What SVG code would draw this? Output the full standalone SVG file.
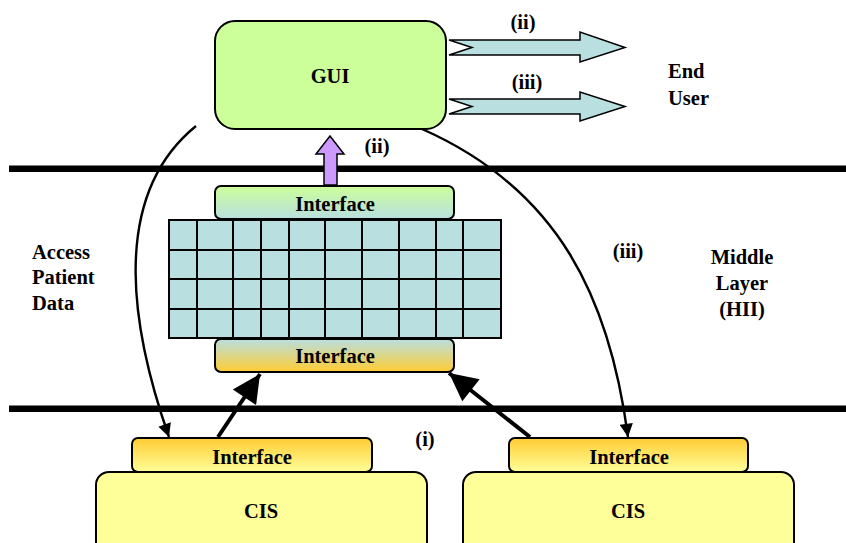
<svg xmlns="http://www.w3.org/2000/svg" width="846" height="543" viewBox="0 0 846 543">
<defs>
<linearGradient id="gTop" x1="0" y1="0" x2="0" y2="1"><stop offset="0" stop-color="#ccff99"/><stop offset="1" stop-color="#b9dfe0"/></linearGradient>
<linearGradient id="gMidBot" x1="0" y1="0" x2="0" y2="1"><stop offset="0" stop-color="#b9dfe0"/><stop offset="1" stop-color="#ffcc33"/></linearGradient>
<linearGradient id="gCis" x1="0" y1="0" x2="0" y2="1"><stop offset="0" stop-color="#ffcc33"/><stop offset="1" stop-color="#ffff99"/></linearGradient>
<marker id="ah" viewBox="0 0 10 10" refX="10" refY="5" markerWidth="8" markerHeight="7" orient="auto" markerUnits="strokeWidth"><path d="M0,0 L10,5 L0,10 Z" fill="#000"/></marker>
<marker id="ahT" viewBox="0 0 10 10" refX="10" refY="5" markerWidth="6.5" markerHeight="5.5" orient="auto" markerUnits="strokeWidth"><path d="M0,0 L10,5 L0,10 Z" fill="#000"/></marker>
</defs>
<style>
text{font-family:'Liberation Serif','Times New Roman',serif;font-weight:bold;font-size:20.5px;fill:#000}
.c{text-anchor:middle}
.box{stroke:#000;stroke-width:2}
.grid{fill:none;stroke:#000;stroke-width:2}
.blk{fill:#b9dfe0;stroke:#000;stroke-width:1.5;stroke-linejoin:miter}
.sep{stroke:#000;stroke-width:6.5}
.thin{fill:none;stroke:#000;stroke-width:2.4}
.thick{fill:none;stroke:#000;stroke-width:4}
</style>

<g id="layers">
<line class="sep" x1="9" y1="168.7" x2="846" y2="168.7"/>
<line class="sep" x1="9" y1="408.7" x2="846" y2="408.7"/>
</g>

<g id="gui">
<rect class="box" x="215" y="21" width="231" height="108" rx="20" fill="#ccff99"/>
<text class="c" x="330" y="83">GUI</text>
</g>

<g id="end-user">
<text x="668" y="78">End</text>
<text x="668" y="105">User</text>
</g>

<g id="middle-layer">
<rect class="box" x="215" y="186" width="239" height="33" rx="6" fill="url(#gTop)"/>
<text class="c" x="335" y="211">Interface</text>
<rect x="169" y="220" width="332" height="118" fill="#b9dfe0"/>
<path class="grid" d="M169,220 H501 V338 H169 Z M169,250 H501 M169,279 H501 M169,309 H501 M197,220 V338 M233,220 V338 M261,220 V338 M289,220 V338 M325,220 V338 M362,220 V338 M399,220 V338 M436,220 V338 M463,220 V338"/>
<rect class="box" x="215" y="339" width="239" height="33" rx="6" fill="url(#gMidBot)"/>
<text class="c" x="335" y="363">Interface</text>
</g>

<g id="cis-left">
<rect class="box" x="96" y="472" width="331" height="90" rx="13" fill="#ffff99"/>
<rect class="box" x="132" y="438" width="240" height="34" rx="6" fill="url(#gCis)"/>
<text class="c" x="252" y="464">Interface</text>
<text class="c" x="261" y="518">CIS</text>
</g>

<g id="cis-right">
<rect class="box" x="463" y="472" width="331" height="90" rx="13" fill="#ffff99"/>
<rect class="box" x="509" y="438" width="239" height="34" rx="6" fill="url(#gCis)"/>
<text class="c" x="629" y="464">Interface</text>
<text class="c" x="628" y="518">CIS</text>
</g>

<g id="labels">
<text x="32" y="259">Access</text>
<text x="32" y="284">Patient</text>
<text x="32" y="310">Data</text>
<text class="c" x="742" y="264">Middle</text>
<text class="c" x="742" y="290">Layer</text>
<text class="c" x="742" y="316">(HII)</text>
<text class="c" x="628" y="258">(iii)</text>
<text class="c" x="523" y="29">(ii)</text>
<text class="c" x="527" y="89">(iii)</text>
<text class="c" x="377" y="153">(ii)</text>
<text class="c" x="425" y="446">(i)</text>
</g>

<g id="connectors">
<path class="blk" d="M449,40 L580,40 L580,32 L625,47.5 L580,62 L580,55 L449,55 L472,47.5 Z"/>
<path class="blk" d="M449,99 L580,99 L580,92 L625,106.5 L580,121 L580,114 L449,114 L472,106.5 Z"/>
<path d="M324,185 L324,154 L316,154 L330,136 L344,154 L337,154 L337,185 Z" fill="#cc99ff" stroke="#000" stroke-width="1.5"/>
<path class="thin" d="M196,126 C105,200 135,340 169,437" marker-end="url(#ahT)"/>
<path class="thin" d="M422,129 C560,190 610,300 628,437" marker-end="url(#ahT)"/>
<path class="thick" d="M218,437 L260,374" marker-end="url(#ah)"/>
<path class="thick" d="M530,437 L449,373" marker-end="url(#ah)"/>
</g>
</svg>
